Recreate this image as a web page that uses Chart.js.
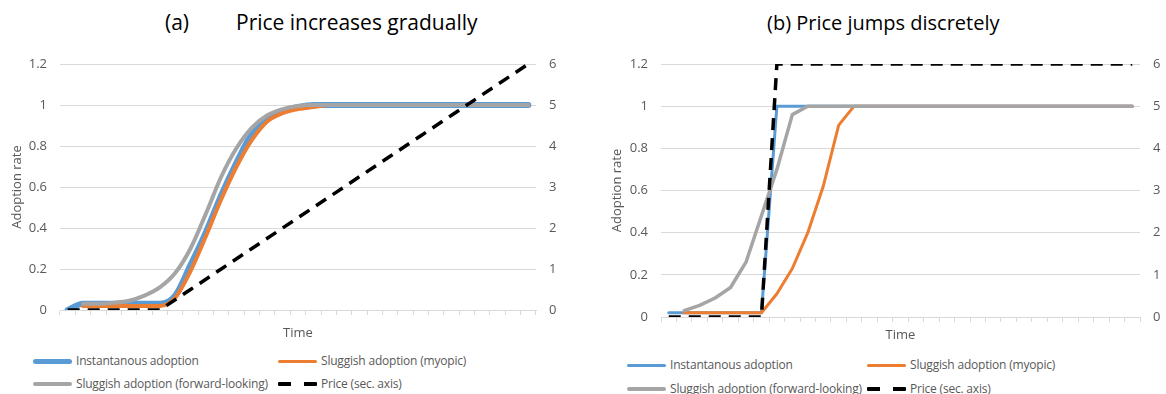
<!DOCTYPE html>
<html lang="en">
<head>
<meta charset="UTF-8">
<title>Adoption and price</title>
<script src="https://cdn.jsdelivr.net/npm/chart.js"></script>
<style>
  body { margin: 0; width: 1166px; height: 394px; background: #fff; position: relative; overflow: hidden;
         font-family: 'Open Sans', 'Noto Sans', sans-serif; color: #595959; }
  .titulo { position: absolute; top: 9px; font-size: 20px; color: #000; white-space: pre; }
  .painel { position: absolute; top: 40px; }
  .item { position: absolute; white-space: nowrap; font-size: 12px; letter-spacing: -0.2px; line-height: 16px; height: 16px; }
  .amostra { position: absolute; width: 39px; border-radius: 3px; }
</style>
</head>
<body>

<div class="titulo" style="left: 165px; font-size: 21px; top: 8px;">(a)</div>
<div class="titulo" style="left: 236px; font-size: 21px; top: 8px;">Price increases gradually</div>
<div class="titulo" style="left: 767px;">(b) Price jumps discretely</div>

<canvas id="graficoGradual" class="painel" style="left: 0px;" width="580" height="305"></canvas>
<canvas id="graficoSalto" class="painel" style="left: 590px;" width="576" height="305"></canvas>

<div id="legendaGradual"></div>
<div id="legendaSalto"></div>

<script>
// time periods (no labels shown on the axis)
const periods = ['1','2','3','4','5','6','7','8','9','10','11','12','13','14','15','16',
                 '17','18','19','20','21','22','23','24','25','26','27','28','29','30','31'];

const seriesNames = ['Instantanous adoption', 'Sluggish adoption (myopic)',
                     'Sluggish adoption (forward-looking)', 'Price (sec. axis)'];

// (a) price increases gradually
const gradualInstant = [0, 0.03, 0.03, 0.03, 0.03, 0.03, 0.03, 0.07, 0.22, 0.38, 0.56, 0.72, 0.86, 0.93, 0.97, 0.99,
                        1, 1, 1, 1, 1, 1, 1, 1, 1, 1, 1, 1, 1, 1, 1];
const gradualMyopic = [null, 0.02, 0.02, 0.02, 0.02, 0.02, 0.02, 0.06, 0.19, 0.36, 0.54, 0.70, 0.83, 0.92, 0.96, 0.98,
                       0.99, 1, 1, 1, 1, 1, 1, 1, 1, 1, 1, 1, 1, 1, 1];
const gradualForward = [null, 0.03, 0.03, 0.035, 0.045, 0.07, 0.11, 0.18, 0.30, 0.47, 0.65, 0.79, 0.89, 0.95, 0.98, 0.995,
                        1, 1, 1, 1, 1, 1, 1, 1, 1, 1, 1, 1, 1, 1, 1];
const gradualPrice = [0, 0, 0, 0, 0, 0, 0, 0.25, 0.5, 0.75, 1, 1.25, 1.5, 1.75, 2, 2.25,
                      2.5, 2.75, 3, 3.25, 3.5, 3.75, 4, 4.25, 4.5, 4.75, 5, 5.25, 5.5, 5.75, 6];

// (b) price jumps discretely
const jumpInstant = [0.02, 0.02, 0.02, 0.02, 0.02, 0.02, 0.02, 1, 1, 1, 1, 1, 1, 1, 1, 1,
                     1, 1, 1, 1, 1, 1, 1, 1, 1, 1, 1, 1, 1, 1, 1];
const jumpMyopic = [null, 0.02, 0.02, 0.02, 0.02, 0.02, 0.02, 0.11, 0.23, 0.40, 0.62, 0.91, 1, 1, 1, 1,
                    1, 1, 1, 1, 1, 1, 1, 1, 1, 1, 1, 1, 1, 1, 1];
const jumpForward = [null, 0.03, 0.055, 0.09, 0.14, 0.26, 0.48, 0.70, 0.96, 1, 1, 1, 1, 1, 1, 1,
                     1, 1, 1, 1, 1, 1, 1, 1, 1, 1, 1, 1, 1, 1, 1];
const jumpPrice = [0, 0, 0, 0, 0, 0, 0, 6, 6, 6, 6, 6, 6, 6, 6, 6,
                   6, 6, 6, 6, 6, 6, 6, 6, 6, 6, 6, 6, 6, 6, 6];

const adoptionTicks = { min: 0, max: 1.2, step: 0.2 };
const priceTicks = { min: 0, max: 6, step: 1 };

const cores = ['#5B9BD5', '#ED7D31', '#A5A5A5', '#000000'];
const cinzaTexto = '#595959';
const cinzaGrade = '#D9D9D9';

function gerarGrafico(id, valores, cfg) {
    const ctx = document.getElementById(id);
    const datasets = [];
    for (let i = 0; i < 4; i++) {
        datasets.push({
            label: seriesNames[i],
            data: valores[i],
            yAxisID: i === 3 ? 'y2' : 'y',
            borderColor: cores[i],
            backgroundColor: cores[i],
            borderWidth: cfg.larguras[i],
            borderDash: i === 3 ? [12, 8] : [],
            borderCapStyle: i === 3 ? 'butt' : 'round',
            borderJoinStyle: 'round',
            pointRadius: 0,
            cubicInterpolationMode: (cfg.suave && i < 3) ? 'monotone' : 'default',
            tension: 0,
            fill: false,
            order: 3 - i
        });
    }

    new Chart(ctx, {
        type: 'line',
        data: { labels: periods, datasets: datasets },
        options: {
            responsive: false,
            animation: false,
            layout: { padding: { top: 24, left: 0, right: 0, bottom: 0 } },
            plugins: { legend: { display: false }, tooltip: { enabled: false } },
            scales: {
                x: {
                    offset: true,
                    grid: { offset: true, drawOnChartArea: false, drawTicks: true, tickLength: 5, color: cinzaGrade },
                    border: { color: cinzaGrade },
                    ticks: { display: false },
                    title: { display: true, text: 'Time', color: cinzaTexto, font: { family: 'Open Sans', size: 13 },
                             padding: { top: 0, bottom: cfg.tempoPad } },
                    afterFit: s => { s.height = cfg.alturaX; }
                },
                y: {
                    position: 'left',
                    min: adoptionTicks.min, max: adoptionTicks.max,
                    ticks: { stepSize: adoptionTicks.step, color: cinzaTexto, padding: 13,
                             font: { family: 'Open Sans', size: 13 },
                             callback: v => String(parseFloat(v.toFixed(1))) },
                    grid: { color: cinzaGrade, drawTicks: false },
                    border: { display: false },
                    title: { display: true, text: 'Adoption rate', color: cinzaTexto,
                             font: { family: 'Open Sans', size: 13 }, padding: { top: cfg.tituloYPad, bottom: 0 } },
                    afterFit: s => { s.width = cfg.larguraEsq; }
                },
                y2: {
                    position: 'right',
                    min: priceTicks.min, max: priceTicks.max,
                    ticks: { stepSize: priceTicks.step, color: cinzaTexto, padding: 13,
                             font: { family: 'Open Sans', size: 13 } },
                    grid: { drawOnChartArea: false, drawTicks: false },
                    border: { display: false },
                    afterFit: s => { s.width = cfg.larguraDir; }
                }
            }
        }
    });
}

function gerarLegenda(id, cfg) {
    const div = document.getElementById(id);
    const colunas = [cfg.col1, cfg.col2];
    const linhas = [cfg.linha1, cfg.linha2];
    for (let i = 0; i < 4; i++) {
        const x = colunas[i % 2];
        const y = linhas[Math.floor(i / 2)];
        const item = document.createElement('div');
        item.className = 'item';
        item.style.left = x + 'px';
        item.style.top = (y - 8) + 'px';

        const amostra = document.createElement('div');
        amostra.className = 'amostra';
        const h = cfg.amostras[i];
        amostra.style.height = h + 'px';
        amostra.style.top = (8 - h / 2) + 'px';
        if (i === 3) {
            amostra.style.background = 'repeating-linear-gradient(to right, #000 0 13px, transparent 13px 26px)';
            amostra.style.borderRadius = '1px';
        } else {
            amostra.style.background = cores[i];
        }
        item.appendChild(amostra);

        const texto = document.createElement('span');
        texto.textContent = seriesNames[i];
        texto.style.position = 'absolute';
        texto.style.left = '43px';
        item.appendChild(texto);
        div.appendChild(item);
    }
}

gerarGrafico('graficoGradual', [gradualInstant, gradualMyopic, gradualForward, gradualPrice], {
    larguras: [6, 4, 4, 3.5], alturaX: 35, tempoPad: 4, tituloYPad: 9, larguraEsq: 60, larguraDir: 44, suave: true
});
gerarGrafico('graficoSalto', [jumpInstant, jumpMyopic, jumpForward, jumpPrice], {
    larguras: [3, 3, 3.5, 3.5], alturaX: 28, tempoPad: 2, tituloYPad: 19, larguraEsq: 71, larguraDir: 26, suave: false
});

gerarLegenda('legendaGradual', { col1: 33, col2: 278, linha1: 361, linha2: 384, amostras: [5, 3, 4, 4] });
gerarLegenda('legendaSalto', { col1: 627, col2: 867, linha1: 365, linha2: 389, amostras: [3, 3, 4, 4] });
</script>
</body>
</html>
